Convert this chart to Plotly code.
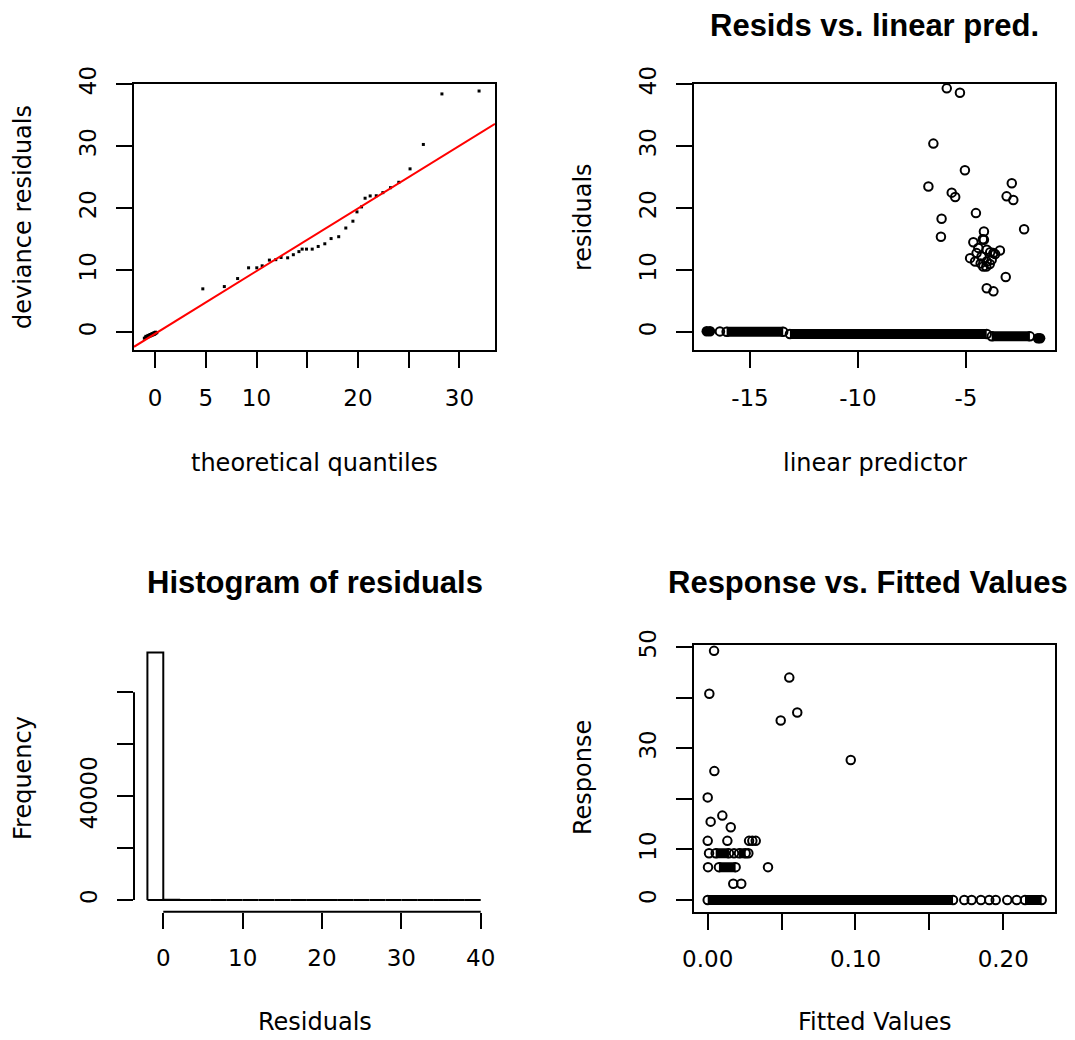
import plotly.graph_objects as go

# page is offset by the browser's default 8px body margin
PAGE_W, PAGE_H = 1075, 1040
OFF = 8
W, H = PAGE_W - OFF, PAGE_H - OFF

# ---------------- data ----------------
# Panel 1: QQ plot of deviance residuals
qq_theoretical = [-1.05, -0.95, -0.88, -0.8, -0.72, -0.65, -0.58, -0.5, -0.42, -0.35, -0.28, -0.2,
                  -0.12, -0.05, 0.03, 0.1, 0.18, -0.9, -0.7, -0.5, -0.3, -0.1, 0.05,
                  4.71, 6.83, 8.14, 9.22, 10.03, 10.56, 11.27, 11.9, 12.42, 13.07, 13.63, 14.18,
                  14.5, 14.93, 15.49, 16.08, 16.73, 17.35, 18.1, 18.8, 19.5, 19.9, 20.35, 20.7,
                  21.2, 21.8, 22.45, 23.2, 24.02, 25.13, 26.44, 28.27, 31.93]
qq_deviance = [-0.95, -0.9, -0.85, -0.8, -0.75, -0.7, -0.65, -0.6, -0.55, -0.5, -0.45, -0.4,
               -0.35, -0.3, -0.22, -0.12, -0.05, -0.65, -0.5, -0.35, -0.2, -0.05, 0.02,
               7.0, 7.37, 8.66, 10.39, 10.39, 10.71, 11.63, 11.7, 12.05, 12.0, 12.5, 13.0,
               13.4, 13.4, 13.4, 13.83, 14.26, 15.1, 15.4, 16.8, 17.9, 19.4, 20.2, 21.6,
               21.97, 22.0, 22.5, 23.3, 24.17, 26.33, 30.26, 38.4, 38.87]
qq_ref_intercept = -0.24
qq_ref_slope = 1.01

# Panel 2: residuals vs linear predictor
lp_pred = [-5.89, -5.28, -6.51, -6.74, -5.05, -5.66, -5.5, -6.13, -6.16, -4.54, -2.88, -3.12,
           -2.81, -2.31, -3.16, -4.04, -3.73, -4.17, -4.17, -4.66, -4.81, -4.51, -4.58, -4.2,
           -4.04, -3.81, -3.73, -3.43, -3.88, -4.28, -4.43, -4.04, -4.32, -4.06, -3.9, -3.65,
           -4.22, -16.39]
lp_resid = [39.3, 38.6, 30.4, 23.5, 26.1, 22.5, 21.8, 18.3, 15.4, 19.2, 24.0, 21.9,
            21.3, 16.6, 8.9, 7.1, 6.6, 16.25, 14.9, 14.5, 11.95, 12.76, 11.4, 10.6,
            11.4, 11.7, 12.76, 13.18, 12.9, 12.2, 13.6, 13.3, 11.1, 10.6, 11.0, 12.6,
            15.0, 0.15]
# dense over-plotted runs of points near zero (start, end, level)
lp_band_x0 = [-16.08, -13.15, -3.81]
lp_band_x1 = [-13.46, -4.04, -2.04]
lp_band_y = [0.1, -0.27, -0.65]
# solid clumps of overlapping points
lp_blob_x = [-17.0, -16.85, -1.67, -1.57]
lp_blob_y = [0.18, 0.18, -0.97, -0.97]

# Panel 3: histogram of residuals
hist_edges = [-2, 0, 2, 4, 6, 8, 10, 12, 14, 16, 18, 20, 22, 24, 26, 28, 30, 32, 34, 36, 38, 40]
hist_counts = [95300, 120, 0, 0, 3, 2, 9, 8, 4, 3, 2, 4, 3, 1, 1, 0, 1, 0, 0, 0, 2]

# Panel 4: response vs fitted values
fit_vals = [0.0043, 0.0011, 0.0552, 0.0606, 0.0494, 0.0968, 0.0045, 0.0, 0.002, 0.0099,
            0.0156, 0.0, 0.0133, 0.028, 0.0302, 0.0325, 0.0009, 0.0178, 0.0275, 0.0002,
            0.0408, 0.0173, 0.0227, 0.1736, 0.1786, 0.1849, 0.1905, 0.1949, 0.2027, 0.2091]
response = [49.3, 40.8, 44.0, 37.1, 35.5, 27.7, 25.5, 20.3, 15.5, 16.7,
            14.4, 11.7, 11.7, 11.7, 11.7, 11.7, 9.24, 9.24, 9.24, 6.5,
            6.5, 3.2, 3.2, 0, 0, 0, 0, 0, 0, 0]
fit_band_x0 = [0.0, 0.0054, 0.0212, 0.0076, 0.2147]
fit_band_x1 = [0.166, 0.0144, 0.0257, 0.0189, 0.2260]
fit_band_y = [0, 9.24, 9.24, 6.5, 0]

# axis ticks
p1_xticks = [0, 5, 10, 15, 20, 25, 30]
p1_xlabels = ["0", "5", "10", "", "20", "", "30"]
p12_yticks = [0, 10, 20, 30, 40]
p12_ylabels = ["0", "10", "20", "30", "40"]
p2_xticks = [-15, -10, -5]
p2_xlabels = ["-15", "-10", "-5"]
p3_xticks = [0, 10, 20, 30, 40]
p3_xlabels = ["0", "10", "20", "30", "40"]
p3_yticks = [0, 20000, 40000, 60000, 80000]
p3_ylabels = ["0", "", "40000", "", ""]
p4_xticks = [0, 0.05, 0.10, 0.15, 0.20]
p4_xlabels = ["0.00", "", "0.10", "", "0.20"]
p4_yticks = [0, 10, 20, 30, 40, 50]
p4_ylabels = ["0", "10", "", "30", "", "50"]

titles = ["", "Resids vs. linear pred.", "Histogram of residuals", "Response vs. Fitted Values"]
xtitles = ["theoretical quantiles", "linear predictor", "Residuals", "Fitted Values"]
ytitles = ["deviance residuals", "residuals", "Frequency", "Response"]

# ---------------- layout helpers (page pixels -> paper fractions) ----------------
def fx(p):
    return (p - OFF) / W


def fy(p):
    return 1 - (p - OFF) / H


XD_L = [fx(134), fx(495)]
XD_R = [fx(694), fx(1055)]
YD_T = [fy(350), fy(84)]
YD_B = [fy(911.7), fy(645)]

TICKFONT = dict(family="DejaVu Sans", size=23, color="black")
LABFONT = dict(family="DejaVu Sans", size=24, color="black")
TITFONT = dict(family="Liberation Sans", size=31, color="black")

PT_SIZE = 8.5

fig = go.Figure()

# Panel 1
fig.add_trace(go.Scatter(x=qq_theoretical, y=qq_deviance, mode="markers",
                         marker=dict(symbol="square", size=3, color="black"),
                         xaxis="x", yaxis="y", showlegend=False))
p1_xr = [-2.07, 33.5]
fig.add_trace(go.Scatter(x=p1_xr, y=[qq_ref_intercept + qq_ref_slope * v for v in p1_xr],
                         mode="lines", line=dict(color="#ff0000", width=2),
                         xaxis="x", yaxis="y", showlegend=False))


def band_trace(x0s, x1s, ys, xa, ya):
    bx, by = [], []
    for a, b, c in zip(x0s, x1s, ys):
        bx += [a, b, None]
        by += [c, c, None]
    lines = go.Scatter(x=bx, y=by, mode="lines", line=dict(color="black", width=10),
                       xaxis=xa, yaxis=ya, showlegend=False)
    ends = go.Scatter(x=list(x0s) + list(x1s), y=list(ys) + list(ys), mode="markers",
                      marker=dict(symbol="circle-open", size=PT_SIZE, color="black",
                                  line=dict(width=2)),
                      xaxis=xa, yaxis=ya, showlegend=False)
    return [lines, ends]


# Panel 2
for t in band_trace(lp_band_x0, lp_band_x1, lp_band_y, "x2", "y2"):
    fig.add_trace(t)
fig.add_trace(go.Scatter(x=lp_blob_x, y=lp_blob_y, mode="markers",
                         marker=dict(symbol="circle", size=PT_SIZE + 2, color="black"),
                         xaxis="x2", yaxis="y2", showlegend=False))
fig.add_trace(go.Scatter(x=lp_pred, y=lp_resid, mode="markers",
                         marker=dict(symbol="circle-open", size=PT_SIZE, color="black",
                                     line=dict(width=2)),
                         xaxis="x2", yaxis="y2", showlegend=False))

# Panel 3: histogram outline rectangles
hx, hy = [], []
for i, c in enumerate(hist_counts):
    e0, e1 = hist_edges[i], hist_edges[i + 1]
    hx += [e0, e0, e1, e1, e0, None]
    hy += [0, c, c, 0, 0, None]
fig.add_trace(go.Scatter(x=hx, y=hy, mode="lines", line=dict(color="black", width=2),
                         xaxis="x3", yaxis="y3", showlegend=False))

# Panel 4
for t in band_trace(fit_band_x0, fit_band_x1, fit_band_y, "x4", "y4"):
    fig.add_trace(t)
fig.add_trace(go.Scatter(x=fit_vals, y=response, mode="markers",
                         marker=dict(symbol="circle-open", size=PT_SIZE, color="black",
                                     line=dict(width=2)),
                         xaxis="x4", yaxis="y4", showlegend=False))


def axis(domain, rng, tv, tt, anchor, box=True, vertical=False):
    d = dict(domain=domain, range=rng, tickmode="array", tickvals=tv, ticktext=tt,
             ticks="outside", ticklen=16, tickwidth=2, tickcolor="black",
             showline=box, linecolor="black", linewidth=2, mirror=box,
             showgrid=False, zeroline=False, anchor=anchor, tickfont=TICKFONT,
             fixedrange=True, ticklabelstandoff=10)
    if vertical:
        d["tickangle"] = -90
        d["ticklabelstandoff"] = 11
    return d


fig.update_layout(
    width=W, height=H, margin=dict(l=0, r=0, t=0, b=0, autoexpand=False),
    paper_bgcolor="white", plot_bgcolor="white",
    xaxis=axis(XD_L, p1_xr, p1_xticks, p1_xlabels, "y"),
    yaxis=axis(YD_T, [-2.85, 40.0], p12_yticks, p12_ylabels, "x", vertical=True),
    xaxis2=axis(XD_R, [-17.59, -0.88], p2_xticks, p2_xlabels, "y2"),
    yaxis2=axis(YD_T, [-2.85, 40.0], p12_yticks, p12_ylabels, "x2", vertical=True),
    xaxis3=axis(XD_L, [-3.69, 41.8], p3_xticks, p3_xlabels, "y3", box=False),
    yaxis3=axis(YD_B, [-4506, 98200], p3_yticks, p3_ylabels, "x3", box=False, vertical=True),
    xaxis4=axis(XD_R, [-0.00927, 0.235], p4_xticks, p4_xlabels, "y4"),
    yaxis4=axis(YD_B, [-2.315, 50.455], p4_yticks, p4_ylabels, "x4", vertical=True),
)

# histogram axis lines (span only the tick range, R style)
fig.add_shape(type="line", xref="x3", yref="y3 domain", x0=p3_xticks[0], x1=p3_xticks[-1],
              y0=0, y1=0, line=dict(color="black", width=2))
fig.add_shape(type="line", xref="x3 domain", yref="y3", x0=0, x1=0,
              y0=p3_yticks[0], y1=p3_yticks[-1], line=dict(color="black", width=2))

# titles & axis labels (page pixel positions)
cx = [(134 + 495) / 2, (694 + 1055) / 2, (134 + 495) / 2, 868]
title_y = [25, 25, 582, 582]
xlab_y = [463, 463, 1022, 1022]
ylab_x = [23, 583, 23, 583]
ylab_cy = [217, 217, 778, 778]
for i in range(4):
    if titles[i]:
        fig.add_annotation(text="<b>%s</b>" % titles[i], x=fx(cx[i]), y=fy(title_y[i]),
                           xref="paper", yref="paper", showarrow=False, font=TITFONT,
                           xanchor="center", yanchor="middle", borderpad=0)
    fig.add_annotation(text=xtitles[i], x=fx((cx[i] if i < 3 else 874.5)), y=fy(xlab_y[i]),
                       xref="paper", yref="paper", showarrow=False, font=LABFONT,
                       xanchor="center", yanchor="middle")
    fig.add_annotation(text=ytitles[i], x=fx(ylab_x[i]), y=fy(ylab_cy[i]), xref="paper",
                       yref="paper", showarrow=False, font=LABFONT, textangle=-90,
                       xanchor="center", yanchor="middle")

fig.write_html("out.html")
